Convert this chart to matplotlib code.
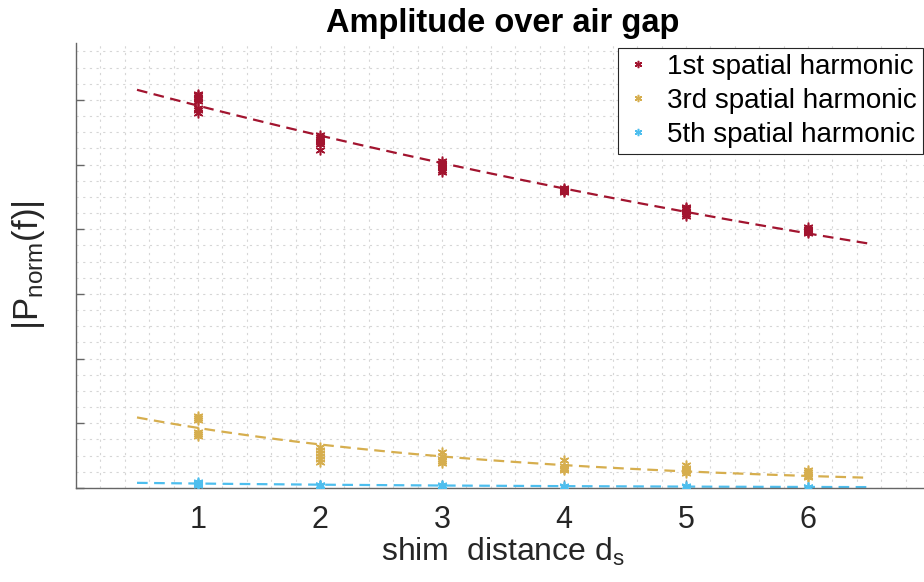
import matplotlib.pyplot as plt
from matplotlib.ticker import MultipleLocator, NullFormatter
import numpy as np

plt.rcParams['font.family'] = ['Liberation Sans', 'DejaVu Sans']
plt.rcParams['mathtext.default'] = 'regular'

# shim distances and the measured amplitudes at each distance
shim = [1, 2, 3, 4, 5, 6]

h1_vals = [
    [0.609, 0.607, 0.605, 0.603, 0.601, 0.599, 0.588, 0.584, 0.580],
    [0.546, 0.543, 0.540, 0.537, 0.535, 0.532, 0.523],
    [0.505, 0.503, 0.501, 0.499, 0.497, 0.492, 0.489],
    [0.464, 0.462, 0.461, 0.460, 0.459, 0.457],
    [0.435, 0.433, 0.431, 0.429, 0.427, 0.424, 0.421],
    [0.403, 0.401, 0.399, 0.398, 0.396, 0.394],
]
h3_vals = [
    [0.112, 0.108, 0.105, 0.086, 0.083, 0.080],
    [0.063, 0.058, 0.054, 0.050, 0.045, 0.040],
    [0.056, 0.050, 0.045, 0.042, 0.039],
    [0.043, 0.034, 0.031, 0.029, 0.028],
    [0.035, 0.031, 0.028, 0.026, 0.023],
    [0.028, 0.024, 0.021, 0.019, 0.017],
]
h5_vals = [
    [0.009, 0.007, 0.006, 0.005],
    [0.005, 0.004, 0.003],
    [0.004, 0.003, 0.003],
    [0.003, 0.002],
    [0.003, 0.002],
    [0.002, 0.002],
]

labels = ['1st spatial harmonic', '3rd spatial harmonic', '5th spatial harmonic']
colors = ['#A2142F', '#D6AE4E', '#4DBEEE']

fig = plt.figure(figsize=(9.24, 5.82), dpi=100)
ax = fig.add_axes([76 / 924, 94 / 582, 854 / 924, 445 / 582])

asterisk = (6, 2, 0)
xfit = np.linspace(0.5, 6.5, 200)

for vals, lab, col in zip([h1_vals, h3_vals, h5_vals], labels, colors):
    xs = np.concatenate([[d] * len(v) for d, v in zip(shim, vals)])
    ys = np.concatenate(vals)
    ax.plot(xs, ys, linestyle='none', marker=asterisk, markersize=7,
            markeredgewidth=1.1, color=col, label=lab, zorder=3)
    # exponential fit  y = a * exp(b x), weighted so it behaves like a linear-space fit
    b, loga = np.polyfit(xs, np.log(ys), 1, w=ys)
    ax.plot(xfit, np.exp(loga) * np.exp(b * xfit), linestyle=(0, (4.8, 2.9)),
            linewidth=1.6, color=col, zorder=2)

ax.set_xlim(0, 7)
ax.set_ylim(0, 0.688)
ax.xaxis.set_major_locator(MultipleLocator(1))
ax.xaxis.set_minor_locator(MultipleLocator(0.2))
ax.yaxis.set_major_locator(MultipleLocator(0.1))
ax.yaxis.set_minor_locator(MultipleLocator(0.025))
ax.set_xticks(shim)
ax.yaxis.set_major_formatter(NullFormatter())

ax.grid(which='both', color='#d6d6d6', linestyle=(0, (2, 4)), linewidth=0.8)
ax.set_axisbelow(True)

for s in ['top', 'right']:
    ax.spines[s].set_visible(False)
for s in ['left', 'bottom']:
    ax.spines[s].set_color('#666666')
    ax.spines[s].set_linewidth(1.0)

ax.tick_params(which='major', direction='in', length=6, width=1.0,
               color='#666666', labelsize=22, pad=12, labelcolor='#262626')
ax.tick_params(which='minor', length=0)

ax.set_xlabel('shim  distance d$_s$', fontsize=23, labelpad=1, color='#262626')
ax.set_ylabel('|P$_{norm}$(f)|', fontsize=25, color='#262626')
ax.yaxis.set_label_coords(-0.034, 0.5)
ax.set_title('Amplitude over air gap', fontsize=23.5, fontweight='bold', pad=8)

leg = ax.legend(loc='upper right', bbox_to_anchor=(923 / 924, 1 - 48 / 582),
                bbox_transform=fig.transFigure, fontsize=20, markerscale=0.75,
                handlelength=1.0, handletextpad=0.55, labelspacing=0.28,
                borderpad=0.22, borderaxespad=0, fancybox=False, framealpha=1)
leg.get_frame().set_edgecolor('#262626')
leg.get_frame().set_linewidth(0.8)

fig.savefig('out.png', dpi=100)
